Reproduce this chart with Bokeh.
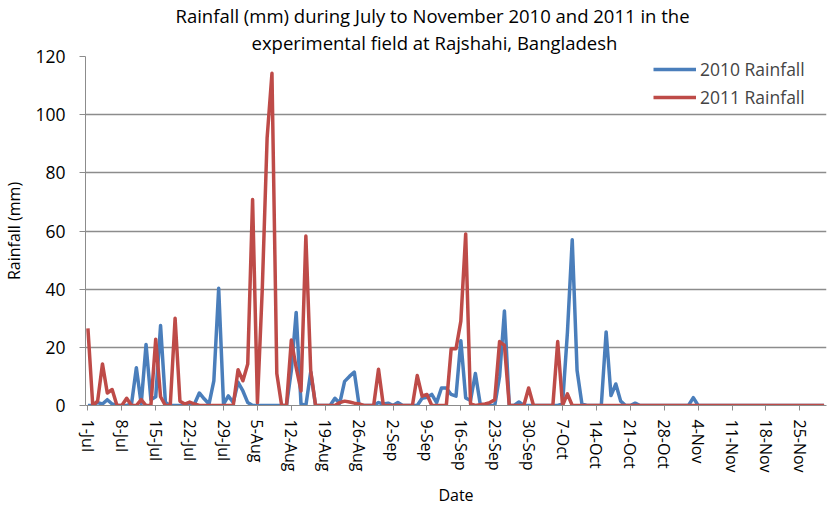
from bokeh.plotting import figure
from bokeh.models import FixedTicker, Legend, LegendItem, Range1d, Title
from bokeh.embed import file_html
from bokeh.resources import INLINE

# ---- data (daily rainfall, mm), day 0 = 1-Jul ... day 152 = 30-Nov ----
tick_labels = ["1-Jul", "8-Jul", "15-Jul", "22-Jul", "29-Jul", "5-Aug", "12-Aug",
               "19-Aug", "26-Aug", "2-Sep", "9-Sep", "16-Sep", "23-Sep", "30-Sep",
               "7-Oct", "14-Oct", "21-Oct", "28-Oct", "4-Nov", "11-Nov", "18-Nov",
               "25-Nov"]
tick_days = [0, 7, 14, 21, 28, 35, 42, 49, 56, 63, 70, 77, 84, 91, 98, 105,
             112, 119, 126, 133, 140, 147]
y_ticks = [0, 20, 40, 60, 80, 100, 120]

rain_2010_jul = [0, 0, 1, 0.5, 2, 0.5, 0, 0, 0, 0.5, 13, 0.5, 21, 2, 3, 27.5,
                 1, 0, 0, 0, 0, 0, 0.5, 4.3, 2.3, 0.5, 8.5, 40.3, 0.5, 3.3, 1]
rain_2010_aug = [8, 5, 1, 0, 0, 0, 0, 0, 0, 0, 0, 12, 32, 0.5, 0, 11.5, 0, 0,
                 0, 0, 2.5, 0.8, 8.3, 10, 11.5, 0, 0, 0, 0, 1, 0.5]
rain_2010_sep = [0.8, 0, 1, 0, 0, 0, 0, 2.5, 2.8, 3.8, 1, 6, 6, 3.8, 3.2, 22.3,
                 2.6, 1.7, 11, 0.5, 0, 0, 0, 10, 32.5, 0, 0, 1.2, 0, 0]
rain_2010_oct = [0, 0, 0, 0, 0, 0, 0.5, 25, 57, 12, 0.5, 0, 0, 0, 0, 25.3,
                 3.4, 7.4, 1.5, 0, 0, 0.8, 0, 0, 0, 0, 0, 0, 0, 0, 0]
rain_2010_nov = [0, 0, 2.7, 0, 0, 0, 0, 0, 0, 0, 0, 0, 0, 0, 0, 0, 0, 0, 0, 0,
                 0, 0, 0, 0, 0, 0, 0, 0, 0, 0]

rain_2011_jul = [26.5, 0, 1.5, 14.3, 4.3, 5.5, 0, 0, 2.5, 0, 0, 2, 0, 0, 22.8,
                 3, 0, 0, 30, 1.5, 0.5, 1.2, 0.5, 0, 0, 0, 0, 0, 0, 0, 0]
rain_2011_aug = [12.3, 8.5, 14.3, 70.8, 1, 40, 92, 114.2, 11, 0, 0, 22.5, 13,
                 5, 58.3, 12, 0, 0, 0, 0, 0, 1, 1.5, 1.2, 0.8, 0.5, 0, 0, 0,
                 12.5, 0]
rain_2011_sep = [0, 0, 0, 0, 0, 0, 10.3, 3.2, 3.8, 0, 0, 0, 0, 19.5, 19.5, 29,
                 59, 0.5, 0, 0.3, 0.5, 1, 2, 22, 20.7, 0, 0, 0, 0, 6]
rain_2011_oct = [0, 0, 0, 0, 0, 22, 0, 4, 0, 0, 0, 0, 0, 0, 0, 0, 0, 0, 0, 0,
                 0, 0, 0, 0, 0, 0, 0, 0, 0, 0, 0]
rain_2011_nov = [0] * 30

rain_2010 = rain_2010_jul + rain_2010_aug + rain_2010_sep + rain_2010_oct + rain_2010_nov
rain_2011 = rain_2011_jul + rain_2011_aug + rain_2011_sep + rain_2011_oct + rain_2011_nov
days = list(range(len(rain_2010)))

FONT = "Open Sans"
GRID = "#8c8c8c"

p = figure(width=829, height=508, output_backend="svg", toolbar_location=None,
           x_range=Range1d(-0.5, len(days) - 0.5), y_range=Range1d(0, 120),
           min_border_left=84, min_border_right=3, min_border_top=56,
           min_border_bottom=102)
p.outline_line_color = None
p.background_fill_color = "white"
p.border_fill_color = "white"

l10 = p.line(days, rain_2010, line_color="#4A7EBB", line_width=3.5, line_join="round")
l11 = p.line(days, rain_2011, line_color="#BE4B48", line_width=3.5, line_join="round")

# x axis
p.xaxis.ticker = FixedTicker(ticks=tick_days)
p.xaxis.major_label_overrides = {d: t for d, t in zip(tick_days, tick_labels)}
p.xaxis.major_label_orientation = "vertical"
p.xaxis.major_label_text_font = FONT
p.xaxis.major_label_text_font_size = "16px"
p.xaxis.major_label_text_color = "black"
p.xaxis.major_label_standoff = 9
p.xaxis.major_tick_out = 5
p.xaxis.major_tick_in = 0
p.xaxis.minor_tick_line_color = None
p.xaxis.axis_line_color = GRID
p.xaxis.major_tick_line_color = GRID
p.xaxis.axis_label = "Date"
p.xaxis.axis_label_text_font = FONT
p.xaxis.axis_label_text_font_size = "16px"
p.xaxis.axis_label_text_font_style = "normal"
p.xaxis.axis_label_text_color = "black"
p.xaxis.axis_label_standoff = 8

# y axis
p.yaxis.ticker = FixedTicker(ticks=y_ticks)
p.yaxis.major_label_text_font = FONT
p.yaxis.major_label_text_font_size = "17.5px"
p.yaxis.major_label_text_color = "black"
p.yaxis.major_label_standoff = 14
p.yaxis.major_tick_out = 6
p.yaxis.major_tick_in = 0
p.yaxis.minor_tick_line_color = None
p.yaxis.axis_line_color = GRID
p.yaxis.major_tick_line_color = GRID
p.yaxis.axis_label = "Rainfall (mm)"
p.yaxis.axis_label_text_font = FONT
p.yaxis.axis_label_text_font_size = "16px"
p.yaxis.axis_label_text_font_style = "normal"
p.yaxis.axis_label_text_color = "black"
p.yaxis.axis_label_standoff = 7

p.xgrid.grid_line_color = None
p.ygrid.grid_line_color = GRID
p.ygrid.grid_line_width = 1.3

# two-line title: the one added last sits on top
p.add_layout(Title(text="experimental field at Rajshahi, Bangladesh", align="left",
                   offset=166, text_font=FONT, text_font_size="18.5px",
                   text_font_style="normal", text_color="black", standoff=0,
                   vertical_align="top"), "above")
p.add_layout(Title(text="Rainfall (mm) during July to November 2010 and 2011 in the",
                   align="left", offset=90, text_font=FONT, text_font_size="18.5px",
                   text_font_style="normal", text_color="black", standoff=0,
                   vertical_align="top"), "above")

legend = Legend(items=[LegendItem(label="2010 Rainfall", renderers=[l10]),
                       LegendItem(label="2011 Rainfall", renderers=[l11])],
                location=(568, 296), orientation="vertical",
                label_text_font=FONT, label_text_font_size="17.5px",
                glyph_width=43, glyph_height=24, label_height=24, spacing=4,
                padding=0, margin=0, label_standoff=4,
                background_fill_alpha=0, border_line_color=None)
p.add_layout(legend)

open("out.html", "w").write(file_html(p, INLINE))
